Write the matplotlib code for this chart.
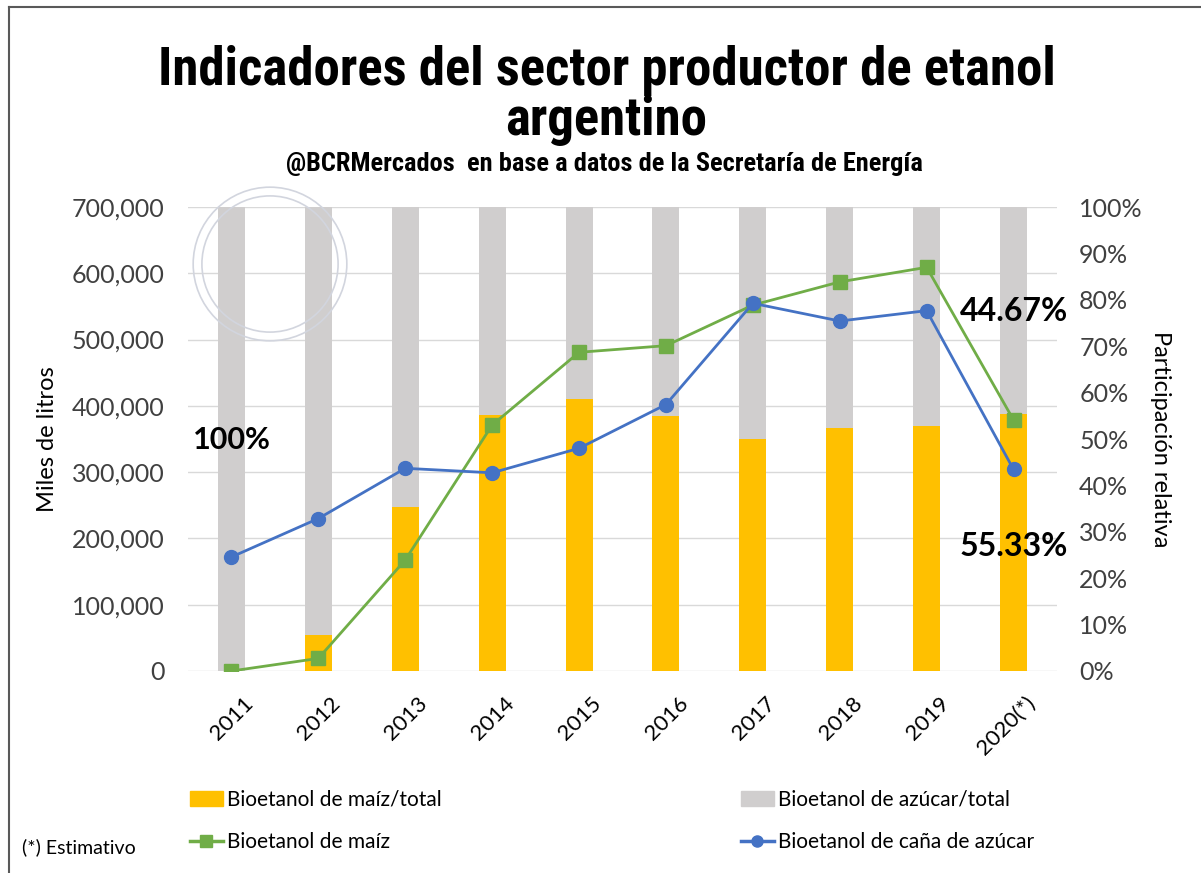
import numpy as np
import matplotlib
matplotlib.use("Agg")
import matplotlib.pyplot as plt
import matplotlib.ticker as mticker
import matplotlib.transforms as mtrans
from matplotlib import font_manager
from matplotlib.lines import Line2D
from matplotlib.patches import Patch, Ellipse

years = ['2011', '2012', '2013', '2014', '2015', '2016', '2017', '2018', '2019', '2020(*)']
# participación relativa (%)
maiz_share = [0.0, 7.8, 35.4, 55.2, 58.6, 55.0, 49.9, 52.4, 52.7, 55.33]
azucar_share = [100 - v for v in maiz_share]
# miles de litros
maiz_vol = [0, 19000, 167500, 371000, 480800, 490800, 552000, 587000, 609000, 378700]
cana_vol = [172000, 230000, 305800, 299000, 336000, 402000, 554700, 528000, 543600, 304000]

names = {f.name for f in font_manager.fontManager.ttflist}
cond = 'DejaVu Sans'
for cand in ['Liberation Sans Narrow', 'Roboto Condensed', 'DejaVu Sans Condensed']:
    if cand in names:
        cond = cand
        break
body = 'Lato' if 'Lato' in names else 'DejaVu Sans'
plt.rcParams['font.family'] = body

c_maiz = '#FFC000'
c_azucar = '#D0CECE'
c_green = '#70AD47'
c_blue = '#4472C4'

fig = plt.figure(figsize=(12.01, 8.73), dpi=100)
ax = fig.add_axes([188/1201, 1-671/873, 869/1201, 464/873])
axr = ax.twinx()
ax.set_zorder(axr.get_zorder() + 1)
ax.patch.set_visible(False)

# sello de fondo (marca de agua)
for r in (0.088, 0.078):
    fig.add_artist(Ellipse((270/1201, 1-264/873), 2*r*873/1201, 2*r, fill=False,
                           ec='#D2D5DE', lw=1.2, zorder=0.5))

x = np.arange(len(years))
axr.bar(x, maiz_share, width=0.31, color=c_maiz, zorder=2)
axr.bar(x, azucar_share, width=0.31, bottom=maiz_share, color=c_azucar, zorder=2)

ax.plot(x, maiz_vol, color=c_green, lw=2, marker='s', ms=10, zorder=3)
ax.plot(x, cana_vol, color=c_blue, lw=2, marker='o', ms=10, zorder=4)

ax.set_xlim(-0.5, len(years) - 0.5)
ax.set_ylim(0, 700000)
axr.set_ylim(0, 100)
ax.yaxis.set_major_locator(mticker.MultipleLocator(100000))
ax.yaxis.set_major_formatter(mticker.FuncFormatter(lambda v, p: f'{int(v):,}'))
axr.yaxis.set_major_locator(mticker.MultipleLocator(10))
axr.yaxis.set_major_formatter(mticker.FuncFormatter(lambda v, p: f'{int(v)}%'))

# grid lines behind the bars, at the left-axis ticks
for t in ax.get_yticks():
    if 0 <= t <= 700000:
        axr.axhline(t / 700000 * 100, color='#D9D9D9', lw=1, zorder=0)

for a in (ax, axr):
    for s in a.spines.values():
        s.set_visible(False)
ax.tick_params(axis='y', length=0, labelsize=18, colors='#404040', pad=17)
axr.tick_params(axis='y', length=0, labelsize=18, colors='#404040', pad=16)
ax.set_xticks(x)
ax.set_xticklabels(years, rotation=45, ha='right', rotation_mode='anchor', fontsize=16)
ax.tick_params(axis='x', length=0, pad=16, colors='#000000')
shift = mtrans.ScaledTranslation(0.12, 0, fig.dpi_scale_trans)
for lab in ax.get_xticklabels():
    lab.set_transform(lab.get_transform() + shift)

ax.set_ylabel('Miles de litros', fontsize=17, labelpad=10)
axr.set_ylabel('Participación relativa', fontsize=17, rotation=270, labelpad=20)

axr.text(0, 49.8, '100%', ha='center', va='center', fontsize=22, fontweight='bold')
axr.text(9, 77.4, '44.67%', ha='center', va='center', fontsize=23, fontweight='bold')
axr.text(9, 26.9, '55.33%', ha='center', va='center', fontsize=23, fontweight='bold')

fig.text(0.505, 1-70/873, 'Indicadores del sector productor de etanol', ha='center', va='center',
         fontsize=38, fontweight='bold', family=cond)
fig.text(0.505, 1-121/873, 'argentino', ha='center', va='center',
         fontsize=38, fontweight='bold', family=cond)
fig.text(0.503, 1-164/873, '@BCRMercados  en base a datos de la Secretaría de Energía', ha='center', va='center',
         fontsize=19, fontweight='bold', family=cond)

h_maiz = Patch(color=c_maiz)
h_az = Patch(color=c_azucar)
h_g = Line2D([], [], color=c_green, lw=2.5, marker='s', ms=8)
h_b = Line2D([], [], color=c_blue, lw=2.5, marker='o', ms=8)
leg_kw = dict(frameon=False, fontsize=15, handlelength=1.6, handletextpad=0.2, labelspacing=1.1,
              loc='center left')
fig.legend([h_maiz, h_g], ['Bioetanol de maíz/total', 'Bioetanol de maíz'],
           bbox_to_anchor=(171/1201, 1-821/873), **leg_kw)
fig.legend([h_az, h_b], ['Bioetanol de azúcar/total', 'Bioetanol de caña de azúcar'],
           bbox_to_anchor=(722/1201, 1-821/873), **leg_kw)
fig.text(22/1201, 1-847/873, '(*) Estimativo', ha='left', va='center', fontsize=14)

# marco
fig.add_artist(Line2D([9/1201, 9/1201], [0, 1-7/873], color='#595959', lw=1.5))
fig.add_artist(Line2D([9/1201, 1], [1-7/873, 1-7/873], color='#595959', lw=1.5))

fig.savefig('out.png', dpi=100)
